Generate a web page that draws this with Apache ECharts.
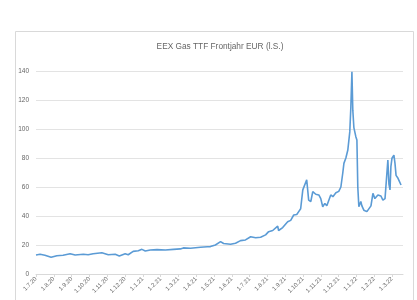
<!DOCTYPE html>
<html>
<head>
<meta charset="utf-8">
<script src="https://cdn.jsdelivr.net/npm/echarts@6/dist/echarts.min.js"></script>
<style>
  html, body { margin: 0; padding: 0; background: #fff; }
  #chart { width: 417px; height: 300px; }
</style>
</head>
<body>
<div id="chart"></div>
<script>
// Monatsbeschriftung der x-Achse (Index 0 = 1.7.20)
const monthLabels = ['1.7.20', '1.8.20', '1.9.20', '1.10.20', '1.11.20', '1.12.20',
  '1.1.21', '1.2.21', '1.3.21', '1.4.21', '1.5.21', '1.6.21', '1.7.21', '1.8.21',
  '1.9.21', '1.10.21', '1.11.21', '1.12.21', '1.1.22', '1.2.22', '1.3.22']

// Zeitpunkt in Monaten seit 1.7.20
const monthPos = [0, 0.23, 0.5, 0.85, 1.17, 1.52, 1.92, 2.2, 2.66, 2.93, 3.21, 3.7, 4.06, 4.45, 4.68,
  5.01, 5.18, 5.46, 5.75, 5.95, 6.14, 6.42, 6.8, 7.27, 7.72, 8.11, 8.28, 8.68, 9.24, 9.63, 9.8,
  10.08, 10.37, 10.54, 10.65, 10.93, 11.21, 11.49, 11.77, 12.06, 12.34, 12.62, 12.9, 13.07, 13.3,
  13.58, 13.63, 13.86, 14.14, 14.31, 14.48, 14.65, 14.76, 14.87, 14.99, 15.1, 15.21, 15.32, 15.44,
  15.55, 15.72, 15.89, 16.0, 16.11, 16.23, 16.34, 16.45, 16.56, 16.68, 16.85, 17.01, 17.13, 17.24,
  17.3, 17.41, 17.52, 17.63, 17.69, 17.75, 17.8, 17.86, 17.97, 18.03, 18.08, 18.14, 18.25, 18.31,
  18.42, 18.59, 18.7, 18.82, 18.93, 19.04, 19.21, 19.38, 19.49, 19.61, 19.72, 19.77, 19.83, 19.89,
  19.94, 20.0, 20.06, 20.11, 20.17, 20.23, 20.28, 20.34, 20.39, 20.45, 20.51, 20.56, 20.62]

// EEX Gas TTF Frontjahr, EUR/MWh
const price = [13.1, 13.6, 12.9, 11.5, 12.6, 12.9, 14, 13.1, 13.6, 13.3, 14, 14.7, 13.3, 13.6, 12.4,
  14, 13.3, 15.6, 16, 17, 15.9, 16.6, 16.8, 16.5, 17, 17.3, 18, 17.8, 18.4, 18.8, 18.9,
  20, 22.3, 21, 20, 20.5, 21.2, 23, 23.5, 25.7, 25, 25.3, 27, 29.2, 30,
  33, 30, 32, 36, 37, 40.7, 41, 43, 45, 58, 57, 65, 51, 50,
  56.8, 55, 54.5, 52, 46.4, 48.7, 47, 46.4, 54.5, 53.3, 56, 57, 60, 70,
  76.3, 80, 85.5, 98, 115, 139.5, 113, 101, 94.7, 92.4, 60, 46.4, 50, 47,
  44, 43, 42.5, 47, 55.6, 52, 54.5, 53.8, 51, 52, 52, 78.6, 62,
  58, 74, 79.8, 80, 82, 76.3, 68, 67, 66, 64.8, 65, 61.4]

const yTicks = { min: 0, max: 140, step: 20 }

const fontFam = '"Liberation Sans", Arial, sans-serif'

const chart = echarts.init(document.getElementById('chart'), null, { renderer: 'canvas' })

const option = {
  backgroundColor: '#fff',
  animation: false,
  title: {
    text: 'EEX Gas TTF Frontjahr EUR (l.S.)',
    left: 215,
    top: 38,
    textAlign: 'center',
    textStyle: { fontSize: 8.3, fontWeight: 'normal', color: '#666', fontFamily: fontFam }
  },
  graphic: [{
    type: 'rect',
    shape: { x: 15.5, y: 31.5, width: 398, height: 300 },
    style: { fill: 'none', stroke: '#d9d9d9', lineWidth: 1 },
    silent: true
  }],
  grid: { left: 36, right: 14, top: 71, bottom: 26 },
  xAxis: {
    type: 'value',
    min: 0,
    max: 20.62,
    interval: 1,
    axisLine: { show: true, lineStyle: { color: '#d9d9d9' } },
    axisTick: { show: true, length: 3, lineStyle: { color: '#d9d9d9' } },
    splitLine: { show: false },
    axisLabel: {
      rotate: 45,
      fontSize: 6,
      color: '#666',
      fontFamily: fontFam,
      margin: 4,
      showMaxLabel: false,
      formatter: function (v) {
        return Number.isInteger(v) ? (monthLabels[v] || '') : ''
      }
    }
  },
  yAxis: {
    type: 'value',
    min: yTicks.min,
    max: yTicks.max,
    interval: yTicks.step,
    axisLine: { show: false },
    axisTick: { show: false },
    splitLine: { lineStyle: { color: '#e3e3e3', width: 1 } },
    axisLabel: { fontSize: 6.5, color: '#666', fontFamily: fontFam, margin: 7 }
  },
  series: [{
    type: 'line',
    data: monthPos.map((m, i) => [m, price[i]]),
    showSymbol: false,
    lineStyle: { color: '#5b9bd5', width: 1.6 },
    itemStyle: { color: '#5b9bd5' }
  }]
}

chart.setOption(option)
</script>
</body>
</html>
